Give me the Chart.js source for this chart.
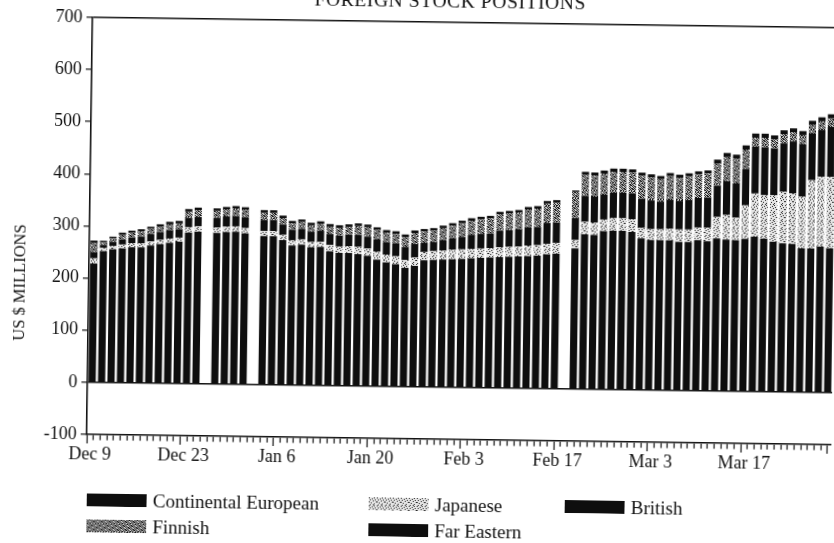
<!DOCTYPE html>
<html>
<head>
<meta charset="utf-8">
<script src="https://cdn.jsdelivr.net/npm/chart.js@4"></script>
<style>
  html, body { margin: 0; padding: 0; background: #fff; width: 834px; height: 543px; overflow: hidden; }
  #sheet { position: absolute; left: 0; top: 0; width: 834px; height: 543px;
           transform: rotate(0.8deg); transform-origin: 417px 271px; }
  #plot { position: absolute; left: 0; top: 0; }
  .serif { font-family: 'Liberation Serif', 'Times New Roman', serif; color: #111; }
  #title { position: absolute; left: 0; width: 893px; top: -9px; line-height: 19px;
           font-size: 19.5px; text-align: center; letter-spacing: 0.6px; }
  #ytitle { position: absolute; left: 20px; top: 288px; font-size: 16.5px; white-space: nowrap;
            transform: translate(-50%, -50%) rotate(-90deg); }
  #legend { position: absolute; left: 90px; top: 494px; display: grid;
            grid-template-columns: 282px 196px 200px; row-gap: 5px; }
  #legend .item { display: flex; align-items: center; height: 21px; font-size: 19px; }
  #legend .item canvas { margin-right: 6px; }
</style>
</head>
<body>
<div id="sheet">
  <canvas id="plot" width="834" height="543"></canvas>
  <div id="title" class="serif">FOREIGN STOCK POSITIONS</div>
  <div id="ytitle" class="serif">US $ MILLIONS</div>
  <div id="legend" class="serif"></div>
</div>
<script>
// Trading days shown as bars (holidays kept as empty slots)
const businessDays = [
  'Dec 9','Dec 10','Dec 11','Dec 12','Dec 13',
  'Dec 16','Dec 17','Dec 18','Dec 19','Dec 20',
  'Dec 23','Dec 24','Dec 25','Dec 26','Dec 27',
  'Dec 30','Dec 31','Jan 1','Jan 2','Jan 3',
  'Jan 6','Jan 7','Jan 8','Jan 9','Jan 10',
  'Jan 13','Jan 14','Jan 15','Jan 16','Jan 17',
  'Jan 20','Jan 21','Jan 22','Jan 23','Jan 24',
  'Jan 27','Jan 28','Jan 29','Jan 30','Jan 31',
  'Feb 3','Feb 4','Feb 5','Feb 6','Feb 7',
  'Feb 10','Feb 11','Feb 12','Feb 13','Feb 14',
  'Feb 17','Feb 18','Feb 19','Feb 20','Feb 21',
  'Feb 24','Feb 25','Feb 26','Feb 27','Feb 28',
  'Mar 3','Mar 4','Mar 5','Mar 6','Mar 7',
  'Mar 10','Mar 11','Mar 12','Mar 13','Mar 14',
  'Mar 17','Mar 18','Mar 19','Mar 20','Mar 21',
  'Mar 24','Mar 25','Mar 26','Mar 27'
];

// Labelled calendar ticks, every second Monday
const tickLabels = ['Dec 9','Dec 23','Jan 6','Jan 20','Feb 3','Feb 17','Mar 3','Mar 17'];

// Positions by region, US $ millions
const continental = [
  228,252,256,258,260, 260,264,267,270,272, 290,292,null,290,292,
  293,290,null,285,285, 278,268,270,265,266, 258,255,255,253,250,
  243,238,235,228,232, 243,244,245,246,247, 248,249,250,251,252,
  253,254,255,258,259, null,270,297,296,304, 305,305,303,291,288,
  288,288,285,285,289, 287,293,291,290,293, 297,294,288,285,284,
  276,276,280,277
];
const japanese = [
  10,6,6,7,8, 8,8,8,8,8, 10,10,null,10,10,
  10,10,null,10,10, 10,10,10,10,10, 12,12,13,14,14,
  15,15,15,15,16, 16,17,17,18,18, 18,18,18,19,19,
  19,20,20,20,21, null,16,24,24,22, 24,24,24,20,21,
  21,22,24,24,24, 26,41,47,43,64, 83,83,89,99,97,
  99,131,134,137
];
const british = [
  12,6,8,10,11, 13,14,15,16,16, 18,18,null,19,20,
  20,21,null,21,21, 20,20,20,20,21, 21,21,22,23,23,
  24,24,25,25,26, 17,17,20,22,24, 27,28,28,32,32,
  33,35,35,40,39, null,42,50,50,48, 49,49,50,56,55,
  53,56,55,57,57, 58,60,65,66,70, 90,92,90,93,100,
  101,90,90,96
];
const finnish = [
  17,5,7,9,9, 10,10,10,11,11, 12,13,null,13,13,
  14,14,null,14,14, 12,12,13,12,13, 14,15,15,17,18,
  18,18,18,19,21, 22,22,23,24,26, 27,28,29,31,32,
  32,34,35,37,38, null,50,40,40,40, 40,40,40,44,44,
  43,45,44,45,45, 46,42,46,47,37, 17,18,17,17,17,
  17,16,16,16
];
const farEastern = [
  5,3,3,4,4, 4,4,5,5,5, 5,5,null,5,5,
  5,5,null,5,5, 5,5,5,5,5, 5,5,5,5,5,
  5,5,5,5,5, 5,5,5,5,5, 5,5,5,5,5,
  5,5,5,5,5, null,3,6,6,6, 6,6,6,6,6,
  6,6,6,6,6, 6,8,8,8,8, 8,8,8,8,8,
  8,8,8,8
];

// Halftone fills
function dither(rows, ink, paper) {
  const c = document.createElement('canvas');
  c.width = rows[0].length; c.height = rows.length;
  const g = c.getContext('2d');
  g.fillStyle = paper; g.fillRect(0, 0, c.width, c.height);
  g.fillStyle = ink;
  rows.forEach((r, y) => [...r].forEach((ch, x) => { if (ch === '1') g.fillRect(x, y, 1, 1); }));
  return g.createPattern(c, 'repeat');
}
const INK = '#0e0e0e';
const lightScreen = dither([
  '10000100', '00010000', '01000010', '00001000',
  '10000001', '00100000', '00000100', '01001000'
], '#2a2a2a', '#e4e4e4');
const darkScreen = dither([
  '10110100', '01001011', '10100101', '01011010',
  '11010010', '00101101', '10010110', '01101001'
], '#151515', '#d0d0d0');

const DAYS_PER_SLOT = 7 / 5;   // five trading days spread over a calendar week
const calendarDays = Math.floor(businessDays.length * DAYS_PER_SLOT);
const FONT = { family: "'Liberation Serif', 'Times New Roman', serif", size: 18 };
const isLabelledDay = v => Math.round(v * DAYS_PER_SLOT) % 14 === 0;

const series = [
  { label: 'Continental European', data: continental, fill: INK },
  { label: 'Japanese', data: japanese, fill: lightScreen },
  { label: 'British', data: british, fill: INK },
  { label: 'Finnish', data: finnish, fill: darkScreen },
  { label: 'Far Eastern', data: farEastern, fill: INK }
];

const chart = new Chart(document.getElementById('plot'), {
  type: 'bar',
  data: {
    labels: businessDays,
    datasets: series.map(s => ({
      label: s.label, data: s.data, backgroundColor: s.fill,
      borderWidth: 0, xAxisID: 'x', yAxisID: 'y',
      categoryPercentage: 1, barPercentage: 0.76
    }))
  },
  options: {
    responsive: false,
    animation: false,
    devicePixelRatio: 1,
    layout: { padding: { top: 22, right: 0, bottom: 74, left: 0 } },
    plugins: { legend: { display: false }, tooltip: { enabled: false }, title: { display: false } },
    scales: {
      x: { type: 'category', stacked: true, display: false, offset: true },
      days: {
        type: 'linear', position: 'bottom', min: 0, max: businessDays.length,
        afterBuildTicks: scale => {
          scale.ticks = Array.from({ length: calendarDays + 1 }, (_, d) => ({ value: d / DAYS_PER_SLOT }));
        },
        afterFit: scale => { scale.height = 30; },
        ticks: {
          autoSkip: false, maxRotation: 0, padding: 0, color: '#111', font: FONT,
          callback: v => {
            const d = Math.round(v * DAYS_PER_SLOT);
            return d % 14 === 0 ? (tickLabels[d / 14] || '') : '';
          }
        },
        grid: {
          drawOnChartArea: false, drawTicks: true, tickLength: 9, tickWidth: 1.2, tickColor: '#111',
          tickBorderDash: c => (c.tick && !isLabelledDay(c.tick.value) ? [5, 30] : [])
        },
        border: { display: true, color: '#111', width: 1.6 }
      },
      y: {
        stacked: true, min: -100, max: 700,
        afterFit: scale => { scale.width = 89; },
        ticks: { stepSize: 100, color: '#111', font: FONT, padding: 4 },
        grid: {
          drawOnChartArea: true, lineWidth: 1.6,
          color: c => (c.tick && (c.tick.value === 0 || c.tick.value === 700) ? '#111' : 'rgba(0,0,0,0)'),
          tickColor: '#111', tickLength: 6, tickWidth: 1.2
        },
        border: { display: true, color: '#111', width: 1.6 }
      }
    }
  }
});

// Legend laid out in three columns from the chart's own datasets
const legendBox = document.getElementById('legend');
chart.data.datasets.forEach(ds => {
  const item = document.createElement('div');
  item.className = 'item';
  const sw = document.createElement('canvas');
  sw.width = 60; sw.height = 13;
  const g = sw.getContext('2d');
  g.fillStyle = ds.backgroundColor;
  g.fillRect(0, 0, sw.width, sw.height);
  const txt = document.createElement('span');
  txt.textContent = ds.label;
  item.append(sw, txt);
  legendBox.append(item);
});
</script>
</body>
</html>
